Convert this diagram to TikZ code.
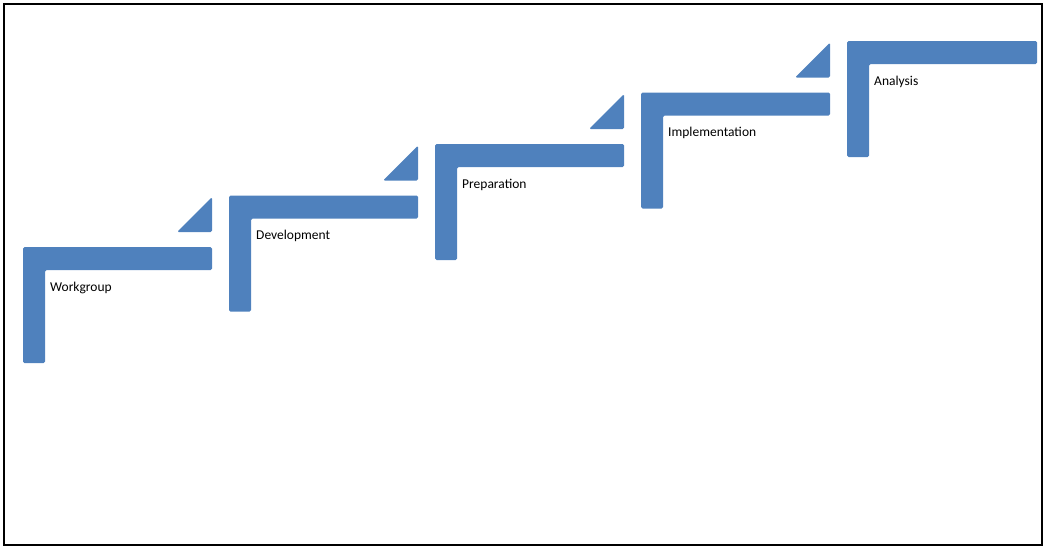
\documentclass[tikz,border=0pt]{standalone}
\usepackage{fontspec}
\setmainfont{Carlito}
\begin{document}
\begin{tikzpicture}[x=1pt,y=-1pt,
  stair/.style={fill=blue!45!black!20!cyan!0!white,fill={rgb,255:red,79;green,129;blue,189},rounded corners=1.5pt},
  lbl/.style={anchor=base west,font=\fontsize{13.5}{16}\selectfont,inner sep=0pt}]
\useasboundingbox (0,0) rectangle (1046,549);
\draw[line width=1.5pt] (4,4) rectangle (1042,545);
\foreach \i/\t/\w in {0/Workgroup/189,1/Development/189,2/Preparation/189,3/Implementation/189,4/Analysis/190}{
  \pgfmathsetmacro{\X}{23+206*\i}
  \pgfmathsetmacro{\Y}{247-51.5*\i}
  \fill[stair] (\X,\Y) -- (\X+\w,\Y) -- (\X+\w,\Y+23) -- (\X+22,\Y+23) -- (\X+22,\Y+116) -- (\X,\Y+116) -- cycle;
  \node[lbl] (n\i) at (\X+27,\Y+44) {\t};
}
\foreach \i in {0,1,2,3}{
  \pgfmathsetmacro{\X}{212+206*\i}
  \pgfmathsetmacro{\Y}{232-51.5*\i}
  \fill[stair] (\X-35,\Y) -- (\X,\Y-35) -- (\X,\Y) -- cycle;
}
\end{tikzpicture}
\end{document}
